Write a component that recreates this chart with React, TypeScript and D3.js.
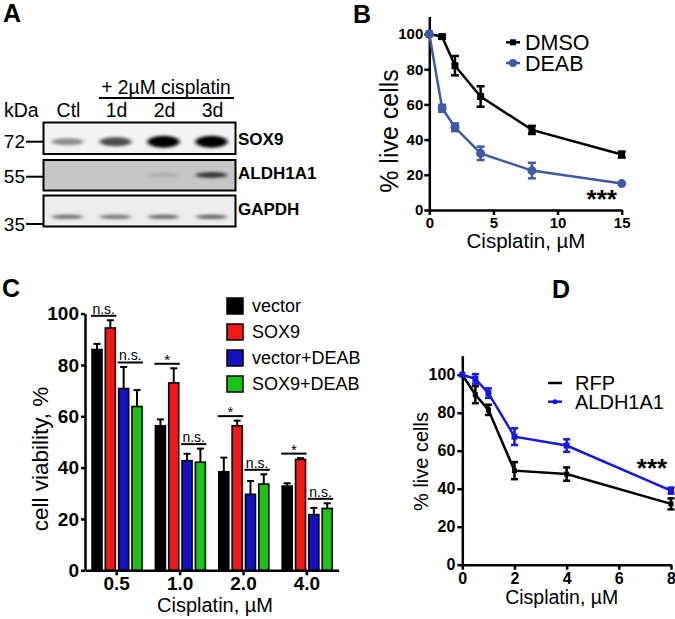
import React, { useEffect, useRef } from "react";
import * as d3 from "d3";

// ---------- Panel A data ----------
const lanes = ["Ctl", "1d", "2d", "3d"];
const blotRows = ["SOX9", "ALDH1A1", "GAPDH"];
const sox9Band = [0.42, 0.68, 1, 1];
const aldhBand = [0, 0, 0.1, 0.72];
const gapdhBand = [0.5, 0.48, 0.52, 0.55];
const kdaMarkers = ["72", "55", "35"];

// ---------- Panel B data ----------
const doseB = [0, 1, 2, 4, 8, 15];
const dmsoMean = [100, 98.5, 82, 64.5, 45.5, 31.5];
const dmsoErr = [0, 1, 5.5, 5.8, 2.3, 1.7];
const deabMean = [100, 57.8, 47, 32.2, 22.4, 15];
const deabErr = [0, 2, 2.2, 3.8, 4.4, 0.5];
const ticksB = [0, 5, 10, 15];

// ---------- Panel C data ----------
const groupsC = ["0.5", "1.0", "2.0", "4.0"];
const seriesC = ["vector", "SOX9", "vector+DEAB", "SOX9+DEAB"];
const vectorVals = [86, 56.3, 38.4, 32.8];
const vectorErr = [2.2, 2.5, 5.5, 1.1];
const sox9Vals = [94.4, 73, 56.3, 43.2];
const sox9Err = [3, 5.7, 2, 0.5];
const vDeabVals = [70.8, 42.7, 29.6, 21.7];
const vDeabErr = [8.4, 2.7, 5.2, 2.6];
const sDeabVals = [63.8, 42.1, 33.6, 24.1];
const sDeabErr = [6.4, 5.3, 3.8, 2];
const sigLeft = ["n.s.", "*", "*", "*"];
const sigRight = ["n.s.", "n.s.", "n.s.", "n.s."];
const colorsC = ["#000000", "#f51616", "#1212c4", "#18c418"];

// ---------- Panel D data ----------
const doseD = [0, 0.5, 1, 2, 4, 8];
const rfpMean = [100, 89.5, 81.5, 49.5, 47.7, 32];
const rfpErr = [0, 4.5, 2.7, 4.5, 3.5, 2.9];
const aldhMean = [100, 97.8, 90.3, 67.4, 62.7, 39];
const aldhErr = [0, 2.5, 2.5, 4.4, 3.3, 1.6];
const ticksD = [0, 2, 4, 6, 8];

const yTicks = [0, 20, 40, 60, 80, 100];
const FONT = "'Liberation Sans', Arial, Helvetica, sans-serif";

export default function App() {
  const ref = useRef<SVGSVGElement | null>(null);

  useEffect(() => {
    const svg = d3.select(ref.current);
    svg.selectAll("*").remove();
    svg.attr("font-family", FONT);

    const defs = svg.append("defs");
    defs
      .append("filter")
      .attr("id", "blur")
      .attr("x", "-30%")
      .attr("y", "-100%")
      .attr("width", "160%")
      .attr("height", "300%")
      .append("feGaussianBlur")
      .attr("stdDeviation", "2 1.4");

    const letter = (t: string, x: number, y: number) =>
      svg
        .append("text")
        .attr("x", x)
        .attr("y", y)
        .attr("font-size", 25)
        .attr("font-weight", "bold")
        .text(t);

    // ================= Panel A =================
    letter("A", 3, 22);
    const laneX = d3.scaleBand().domain(lanes).range([43.5, 235.5]);
    const rowY = d3
      .scaleOrdinal<string, number>()
      .domain(blotRows)
      .range([122.5, 160, 195.5]);
    const rowH = [31.5, 30.5, 31];
    const rowFill = ["#f3f3f3", "#c6c6c6", "#ededed"];
    const bandY = [141.7, 175, 216.8];
    const bandH = [[7, 9, 12, 12], [6, 6, 5, 6], [4.5, 4.5, 4.5, 4.5]];
    const bandVals = [sox9Band, aldhBand, gapdhBand];
    const labelY = [139, 173.3, 209.3];

    blotRows.forEach((r, i) => {
      const g = svg.append("g");
      g.append("rect")
        .attr("x", 43.5)
        .attr("y", rowY(r))
        .attr("width", 192)
        .attr("height", rowH[i])
        .attr("fill", rowFill[i]);
      lanes.forEach((l, j) => {
        const v = bandVals[i][j];
        if (v <= 0) return;
        g.append("ellipse")
          .attr("cx", (laneX(l) as number) + laneX.bandwidth() / 2)
          .attr("cy", bandY[i])
          .attr("rx", 16)
          .attr("ry", bandH[i][j] / 2)
          .attr("fill", "#000")
          .attr("opacity", v)
          .attr("filter", "url(#blur)");
      });
      g.append("rect")
        .attr("x", 43.5)
        .attr("y", rowY(r))
        .attr("width", 192)
        .attr("height", rowH[i])
        .attr("fill", "none")
        .attr("stroke", "#000")
        .attr("stroke-width", 2);
      svg
        .append("text")
        .attr("x", 238)
        .attr("y", labelY[i])
        .attr("dy", "0.35em")
        .attr("font-size", 17)
        .attr("font-weight", "bold")
        .text(r);
    });
    lanes.forEach((l) => {
      svg
        .append("text")
        .attr("x", (laneX(l) as number) + laneX.bandwidth() / 2 + 1)
        .attr("y", 117)
        .attr("text-anchor", "middle")
        .attr("font-size", 19.5)
        .text(l);
    });
    svg.append("text").attr("x", 4).attr("y", 117).attr("font-size", 19.5).text("kDa");
    svg
      .append("text")
      .attr("x", 166)
      .attr("y", 94)
      .attr("text-anchor", "middle")
      .attr("font-size", 19.3)
      .text("+ 2µM cisplatin");
    svg
      .append("line")
      .attr("x1", 99)
      .attr("x2", 234)
      .attr("y1", 98)
      .attr("y2", 98)
      .attr("stroke", "#000")
      .attr("stroke-width", 1.8);
    const kdaY = [141.7, 176.7, 224];
    kdaMarkers.forEach((k, i) => {
      svg
        .append("text")
        .attr("x", 25)
        .attr("y", kdaY[i])
        .attr("dy", "0.35em")
        .attr("text-anchor", "end")
        .attr("font-size", 19)
        .text(k);
      svg
        .append("line")
        .attr("x1", 26)
        .attr("x2", 43)
        .attr("y1", kdaY[i])
        .attr("y2", kdaY[i])
        .attr("stroke", "#000")
        .attr("stroke-width", 2);
    });

    // helper: styled axis
    const styleAxis = (g: any, fs: number) => {
      g.selectAll("path,line").attr("stroke", "#000").attr("stroke-width", 2.5);
      g.selectAll("text")
        .attr("font-size", fs)
        .attr("font-weight", "bold")
        .attr("font-family", FONT)
        .attr("fill", "#000");
    };

    const errBars = (
      g: any,
      xs: number[],
      m: number[],
      e: number[],
      x: any,
      y: any,
      color: string,
      cap: number
    ) => {
      xs.forEach((d, i) => {
        if (e[i] <= 0.6) return;
        const cx = x(d);
        g.append("line")
          .attr("x1", cx)
          .attr("x2", cx)
          .attr("y1", y(m[i] - e[i]))
          .attr("y2", y(m[i] + e[i]))
          .attr("stroke", color)
          .attr("stroke-width", 2.5);
        [m[i] - e[i], m[i] + e[i]].forEach((v) =>
          g
            .append("line")
            .attr("x1", cx - cap / 2)
            .attr("x2", cx + cap / 2)
            .attr("y1", y(v))
            .attr("y2", y(v))
            .attr("stroke", color)
            .attr("stroke-width", 2.5)
        );
      });
    };

    // ================= Panel B =================
    letter("B", 353, 23);
    const xB = d3.scaleLinear().domain([0, 15]).range([429.3, 621.7]);
    const yB = d3.scaleLinear().domain([0, 110]).range([210, 16.4]);
    const gB = svg.append("g");
    const axBx = gB
      .append("g")
      .attr("transform", `translate(0,${yB(0)})`)
      .call(d3.axisBottom(xB).tickValues(ticksB).tickSize(5).tickSizeOuter(0).tickPadding(2).tickFormat(d3.format("d")));
    styleAxis(axBx, 15);
    const axBy = gB
      .append("g")
      .attr("transform", `translate(${xB(0)},0)`)
      .call(d3.axisLeft(yB).tickValues(yTicks).tickSize(5).tickSizeOuter(0).tickPadding(1));
    styleAxis(axBy, 15);
    const blueB = "#4059a6";
    const lineB = d3
      .line<number>()
      .x((d, i) => xB(doseB[i]))
      .y((d) => yB(d));
    gB.append("path").attr("d", lineB(dmsoMean)).attr("fill", "none").attr("stroke", "#000").attr("stroke-width", 2.5);
    gB.append("path").attr("d", lineB(deabMean)).attr("fill", "none").attr("stroke", blueB).attr("stroke-width", 2.5);
    errBars(gB, doseB, dmsoMean, dmsoErr, xB, yB, "#000", 8);
    errBars(gB, doseB, deabMean, deabErr, xB, yB, blueB, 8);
    doseB.forEach((d, i) => {
      gB.append("rect")
        .attr("x", xB(d) - 3.5)
        .attr("y", yB(dmsoMean[i]) - 3.5)
        .attr("width", 7)
        .attr("height", 7)
        .attr("fill", "#000");
    });
    doseB.forEach((d, i) => {
      gB.append("circle").attr("cx", xB(d)).attr("cy", yB(deabMean[i])).attr("r", 4.5).attr("fill", blueB);
    });
    // legend B
    const legB = [
      { name: "DMSO", color: "#000", shape: "square", y: 42.3 },
      { name: "DEAB", color: blueB, shape: "circle", y: 63 },
    ];
    legB.forEach((l) => {
      gB.append("line").attr("x1", 506).attr("x2", 520).attr("y1", l.y).attr("y2", l.y).attr("stroke", l.color).attr("stroke-width", 2.5);
      if (l.shape === "square")
        gB.append("rect").attr("x", 510).attr("y", l.y - 3).attr("width", 6).attr("height", 6).attr("fill", l.color);
      else gB.append("circle").attr("cx", 513).attr("cy", l.y).attr("r", 4).attr("fill", l.color);
      gB.append("text").attr("x", 525).attr("y", l.y).attr("dy", "0.36em").attr("font-size", 21.5).text(l.name);
    });
    gB.append("text").attr("x", 601.7).attr("y", 208).attr("text-anchor", "middle").attr("font-size", 26).attr("font-weight", "bold").text("***");
    gB.append("text").attr("x", 526).attr("y", 248).attr("text-anchor", "middle").attr("font-size", 20.5).text("Cisplatin, µM");
    gB.append("text")
      .attr("transform", `translate(398,131) rotate(-90)`)
      .attr("text-anchor", "middle")
      .attr("font-size", 25)
      .text("% live cells");

    // ================= Panel C =================
    letter("C", 2, 297);
    const xC = d3.scaleBand().domain(groupsC).range([85, 338.6]);
    const xC1 = d3.scaleBand().domain(seriesC).range([7, 57]).paddingInner(0.25);
    const yC = d3.scaleLinear().domain([0, 100]).range([570.3, 313.6]);
    const gC = svg.append("g");
    const valsC = [vectorVals, sox9Vals, vDeabVals, sDeabVals];
    const errsC = [vectorErr, sox9Err, vDeabErr, sDeabErr];
    groupsC.forEach((grp, gi) => {
      const gx = xC(grp) as number;
      seriesC.forEach((s, si) => {
        const bx = gx + (xC1(s) as number);
        const bw = xC1.bandwidth();
        const v = valsC[si][gi];
        const top = v + errsC[si][gi];
        gC.append("line")
          .attr("x1", bx + bw / 2)
          .attr("x2", bx + bw / 2)
          .attr("y1", yC(v))
          .attr("y2", yC(top))
          .attr("stroke", "#000")
          .attr("stroke-width", 2);
        gC.append("line")
          .attr("x1", bx + bw / 2 - 3.5)
          .attr("x2", bx + bw / 2 + 3.5)
          .attr("y1", yC(top))
          .attr("y2", yC(top))
          .attr("stroke", "#000")
          .attr("stroke-width", 2);
        gC.append("rect")
          .attr("x", bx)
          .attr("y", yC(v))
          .attr("width", bw)
          .attr("height", yC(0) - yC(v))
          .attr("fill", colorsC[si])
          .attr("stroke", "#000")
          .attr("stroke-width", 1.6);
      });
      // significance
      const pairs = [
        { a: 0, b: 1, label: sigLeft[gi] },
        { a: 2, b: 3, label: sigRight[gi] },
      ];
      pairs.forEach((p) => {
        const x1 = gx + (xC1(seriesC[p.a]) as number) - 1;
        const x2 = gx + (xC1(seriesC[p.b]) as number) + xC1.bandwidth() + 1;
        const topV = Math.max(valsC[p.a][gi] + errsC[p.a][gi], valsC[p.b][gi] + errsC[p.b][gi]);
        const ly = yC(topV) - 4.5;
        gC.append("line").attr("x1", x1).attr("x2", x2).attr("y1", ly).attr("y2", ly).attr("stroke", "#000").attr("stroke-width", 2);
        const star = p.label === "*";
        gC.append("text")
          .attr("x", (x1 + x2) / 2)
          .attr("y", star ? ly + 1 : ly - 2)
          .attr("text-anchor", "middle")
          .attr("font-size", star ? 15 : 14)
          .text(p.label);
      });
    });
    const axCx = gC
      .append("g")
      .attr("transform", `translate(0,${yC(0)})`)
      .call(d3.axisBottom(xC).tickSize(5).tickSizeOuter(0).tickPadding(1.5));
    styleAxis(axCx, 19);
    const axCy = gC
      .append("g")
      .attr("transform", `translate(85,0)`)
      .call(d3.axisLeft(yC).tickValues(yTicks).tickSize(4).tickSizeOuter(0).tickPadding(2));
    styleAxis(axCy, 19);
    gC.append("text").attr("x", 215).attr("y", 612).attr("text-anchor", "middle").attr("font-size", 20).text("Cisplatin, µM");
    gC.append("text")
      .attr("transform", `translate(48,459) rotate(-90)`)
      .attr("text-anchor", "middle")
      .attr("font-size", 22.5)
      .text("cell viability, %");
    // legend C
    const legY = d3.scaleBand().domain(seriesC).range([297, 401]);
    seriesC.forEach((s, i) => {
      const yy = legY(s) as number;
      gC.append("rect")
        .attr("x", 227)
        .attr("y", yy + 1)
        .attr("width", 16)
        .attr("height", 16)
        .attr("fill", colorsC[i])
        .attr("stroke", "#000")
        .attr("stroke-width", 1.5);
      gC.append("text").attr("x", 252).attr("y", yy + 9).attr("dy", "0.36em").attr("font-size", 18).text(s);
    });

    // ================= Panel D =================
    letter("D", 552, 298);
    const xD = d3.scaleLinear().domain([0, 8]).range([462.3, 671]);
    const yD = d3.scaleLinear().domain([0, 110]).range([564.7, 355.7]);
    const gD = svg.append("g");
    const axDx = gD
      .append("g")
      .attr("transform", `translate(0,${yD(0)})`)
      .call(d3.axisBottom(xD).tickValues(ticksD).tickSize(5).tickSizeOuter(0).tickPadding(3));
    styleAxis(axDx, 16);
    const axDy = gD
      .append("g")
      .attr("transform", `translate(${xD(0)},0)`)
      .call(d3.axisLeft(yD).tickValues(yTicks).tickSize(5).tickSizeOuter(0).tickPadding(2));
    styleAxis(axDy, 16);
    const blueD = "#1616e8";
    const lineD = d3
      .line<number>()
      .x((d, i) => xD(doseD[i]))
      .y((d) => yD(d));
    gD.append("path").attr("d", lineD(rfpMean)).attr("fill", "none").attr("stroke", "#000").attr("stroke-width", 2.5);
    gD.append("path").attr("d", lineD(aldhMean)).attr("fill", "none").attr("stroke", blueD).attr("stroke-width", 2.5);
    errBars(gD, doseD, rfpMean, rfpErr, xD, yD, "#000", 7);
    errBars(gD, doseD, aldhMean, aldhErr, xD, yD, blueD, 7);
    doseD.forEach((d, i) => {
      gD.append("rect").attr("x", xD(d) - 2.5).attr("y", yD(rfpMean[i]) - 2.5).attr("width", 5).attr("height", 5).attr("fill", "#000");
      gD.append("rect").attr("x", xD(d) - 3).attr("y", yD(aldhMean[i]) - 3).attr("width", 6).attr("height", 6).attr("fill", blueD);
    });
    const legD = [
      { name: "RFP", color: "#000", dot: false, y: 383 },
      { name: "ALDH1A1", color: blueD, dot: true, y: 401.7 },
    ];
    legD.forEach((l) => {
      gD.append("line").attr("x1", 548).attr("x2", 562).attr("y1", l.y).attr("y2", l.y).attr("stroke", l.color).attr("stroke-width", 2.5);
      if (l.dot) gD.append("circle").attr("cx", 555).attr("cy", l.y).attr("r", 2.5).attr("fill", l.color);
      gD.append("text").attr("x", 575).attr("y", l.y).attr("dy", "0.36em").attr("font-size", 20).text(l.name);
    });
    gD.append("text").attr("x", 652).attr("y", 476.5).attr("text-anchor", "middle").attr("font-size", 26).attr("font-weight", "bold").text("***");
    gD.append("text").attr("x", 561.7).attr("y", 604).attr("text-anchor", "middle").attr("font-size", 19.5).text("Cisplatin, µM");
    gD.append("text")
      .attr("transform", `translate(428,461.5) rotate(-90)`)
      .attr("text-anchor", "middle")
      .attr("font-size", 20)
      .text("% live cells");
  }, []);

  return (
    <svg
      ref={ref}
      width={675}
      height={619}
      style={{ position: "absolute", left: 0, top: 0, background: "#fff" }}
    />
  );
}
